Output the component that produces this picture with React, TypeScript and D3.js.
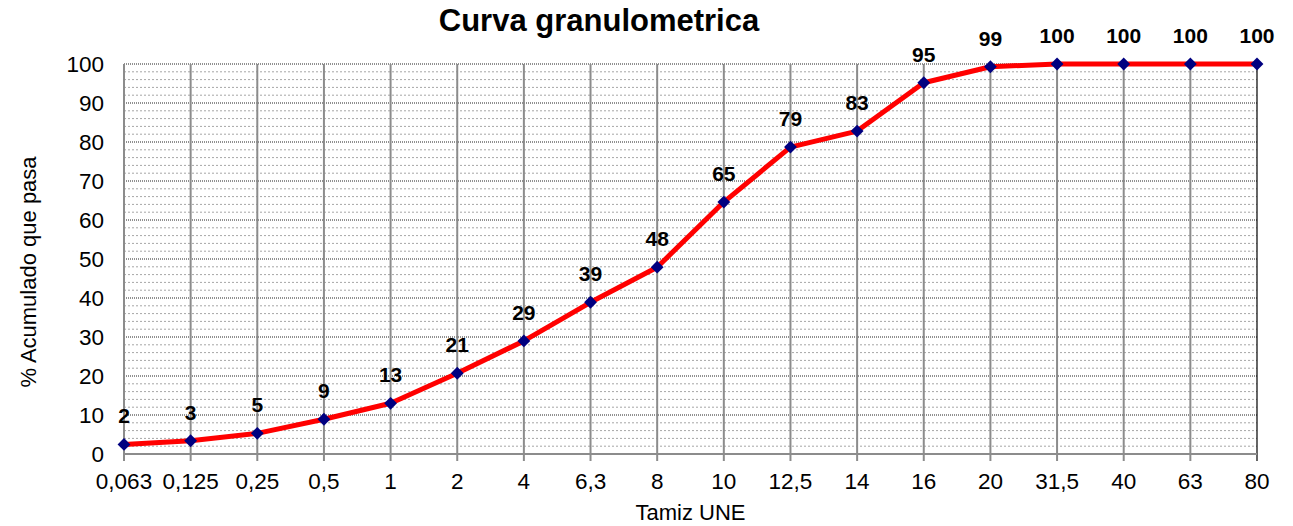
import React from "react";
import * as d3 from "d3";

const categories = ["0,063", "0,125", "0,25", "0,5", "1", "2", "4", "6,3", "8", "10", "12,5", "14", "16", "20", "31,5", "40", "63", "80"];
const passing = [2.45, 3.4, 5.3, 8.9, 13.0, 20.7, 29.0, 38.9, 47.9, 64.6, 78.7, 82.8, 95.2, 99.3, 100, 100, 100, 100];
const yTicks = [0, 10, 20, 30, 40, 50, 60, 70, 80, 90, 100];
const minorTicks = d3.range(0, 101, 2).filter((v) => v % 10 !== 0);

const W = 1293;
const H = 526;
const M = { left: 124, right: 1257, top: 64, bottom: 454 };
const FONT = "'Liberation Sans', Arial, sans-serif";

export default function App() {
  const x = d3.scalePoint<string>().domain(categories).range([M.left, M.right]);
  const y = d3.scaleLinear().domain([0, 100]).range([M.bottom, M.top]);
  const line = d3
    .line<number>()
    .x((_, i) => x(categories[i]) as number)
    .y((d) => y(d));
  const diamond = d3.symbol().type(d3.symbolDiamond2).size(105)();

  return (
    <svg
      width={W}
      height={H}
      style={{ position: "absolute", left: 0, top: 0, background: "#fff" }}
      fontFamily={FONT}
    >
      {/* minor gridlines */}
      {minorTicks.map((v) => (
        <line key={"mi" + v} x1={M.left} x2={M.right} y1={y(v)} y2={y(v)} stroke="#a6a6a6" strokeWidth={1} strokeDasharray="2,2" />
      ))}
      {/* major gridlines */}
      {yTicks.filter((v) => v > 0).map((v) => (
        <line key={"ma" + v} x1={M.left} x2={M.right} y1={y(v)} y2={y(v)} stroke="#222" strokeWidth={1} strokeDasharray="1,1" />
      ))}
      {/* vertical gridlines */}
      {categories.slice(1, -1).map((c) => (
        <line key={"v" + c} x1={x(c)} x2={x(c)} y1={M.top} y2={M.bottom} stroke="#8c8c8c" strokeWidth={2} />
      ))}
      {/* right border */}
      <line x1={M.right} x2={M.right} y1={M.top} y2={M.bottom + 7} stroke="#000" strokeWidth={1.2} />
      {/* axes */}
      <line x1={M.left} x2={M.left} y1={M.top} y2={M.bottom} stroke="#8c8c8c" strokeWidth={2} />
      <line x1={M.left - 1} x2={M.right} y1={M.bottom} y2={M.bottom} stroke="#8c8c8c" strokeWidth={2} />
      {categories.slice(0, -1).map((c) => (
        <line key={"t" + c} x1={x(c)} x2={x(c)} y1={M.bottom} y2={M.bottom + 7} stroke="#8c8c8c" strokeWidth={2} />
      ))}
      {/* y tick labels */}
      {yTicks.map((v) => (
        <text key={"yl" + v} x={104} y={y(v)} textAnchor="end" dominantBaseline="central" fontSize={22.5} fill="#000">
          {v}
        </text>
      ))}
      {/* x tick labels */}
      {categories.map((c) => (
        <text key={"xl" + c} x={x(c)} y={489} textAnchor="middle" fontSize={22.5} fill="#000">
          {c}
        </text>
      ))}
      {/* series */}
      <path d={line(passing) || ""} fill="none" stroke="#ff0000" strokeWidth={5} strokeLinejoin="round" />
      {passing.map((v, i) => (
        <path key={"m" + i} d={diamond || ""} transform={`translate(${x(categories[i])},${y(v)})`} fill="#000080" />
      ))}
      {passing.map((v, i) => (
        <text key={"dl" + i} x={x(categories[i])} y={y(v) - 21} textAnchor="middle" fontSize={21} fontWeight="bold" fill="#000">
          {Math.round(v)}
        </text>
      ))}
      {/* titles */}
      <text x={599} y={31} textAnchor="middle" fontSize={31} fontWeight="bold" fill="#000">
        Curva granulometrica
      </text>
      <text x={(M.left + M.right) / 2} y={520} textAnchor="middle" fontSize={22} fill="#000">
        Tamiz UNE
      </text>
      <text transform={`translate(36,272) rotate(-90)`} textAnchor="middle" fontSize={22} fill="#000">
        % Acumulado que pasa
      </text>
    </svg>
  );
}
